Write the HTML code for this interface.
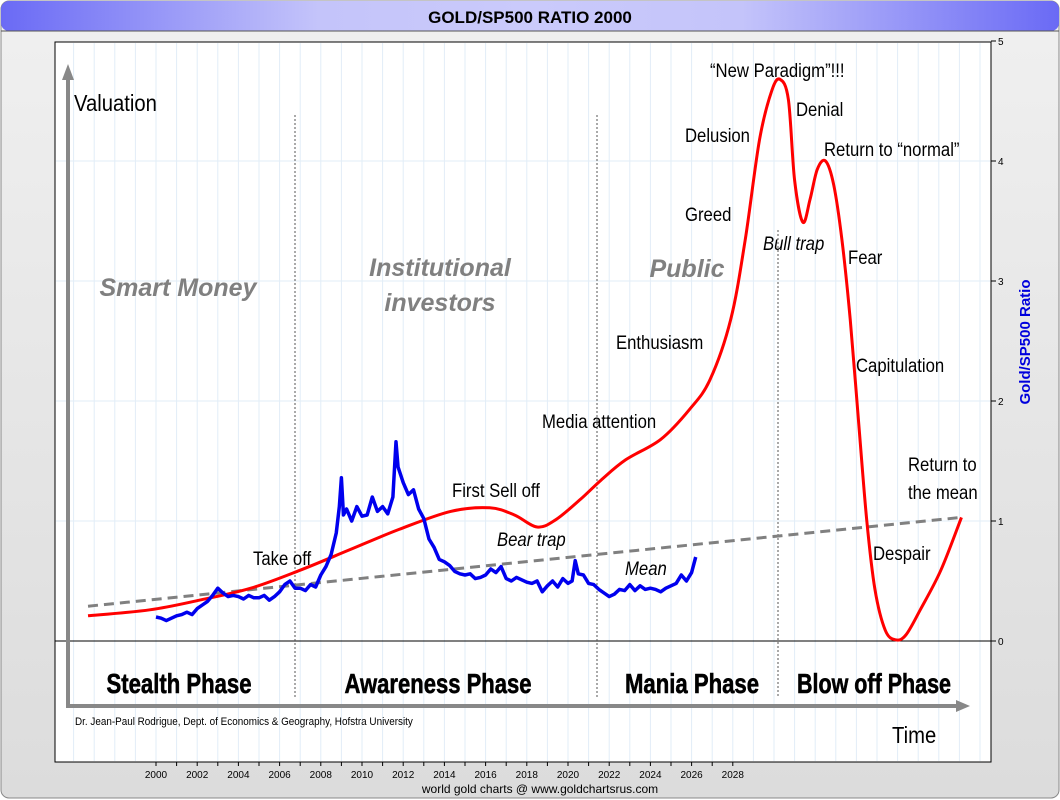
<!DOCTYPE html>
<html><head><meta charset="utf-8"><style>
html,body{margin:0;padding:0;background:#fff}
svg{display:block}
text{font-family:"Liberation Sans",sans-serif}
</style></head><body>
<svg id="chart" width="1060" height="800" viewBox="0 0 1060 800">
<defs>
<linearGradient id="tg" x1="0" x2="1" y1="0" y2="0">
<stop offset="0" stop-color="#6a6af5"/><stop offset="0.3" stop-color="#c4c4fa"/><stop offset="0.5" stop-color="#cacafb"/><stop offset="0.7" stop-color="#c4c4fa"/><stop offset="1" stop-color="#6a6af5"/></linearGradient>
<linearGradient id="bg" x1="0" x2="0" y1="0" y2="1"><stop offset="0" stop-color="#f0f0f0"/><stop offset="1" stop-color="#dcdcdc"/></linearGradient>
</defs>
<rect x="1" y="1" width="1058" height="797" rx="8" fill="url(#bg)" stroke="#888"/>
<rect x="1" y="1" width="1058" height="30" rx="8" fill="url(#tg)"/>
<line x1="1" y1="31" x2="1059" y2="31" stroke="#555"/>
<text x="530" y="23" text-anchor="middle" font-size="17" font-weight="bold">GOLD/SP500 RATIO 2000</text>
<rect x="55" y="42" width="936" height="720" fill="#fff" stroke="#000"/>
<g id="grid"></g>
<g id="axes"></g>
<g id="marks"></g>
<g id="labels"></g>
<text x="1030" y="342" transform="rotate(-90 1030 342)" text-anchor="middle" font-size="15" font-weight="bold" fill="#0000dd">Gold/SP500 Ratio</text>
<text x="75" y="725" font-size="11" transform="translate(75 725) scale(0.9 1) translate(-75 -725)">Dr. Jean-Paul Rodrigue, Dept. of Economics &amp; Geography, Hofstra University</text>
<text x="540" y="793" text-anchor="middle" font-size="12">world gold charts @ www.goldchartsrus.com</text>
</svg>
<script>
const yTicks=[0,1,2,3,4,5];
const xTickYears=[2000,2002,2004,2006,2008,2010,2012,2014,2016,2018,2020,2022,2024,2026,2028];
const goldYears=[2000,2000.25,2000.5,2000.75,2001,2001.25,2001.5,2001.75,2002,2002.25,2002.5,2002.75,2003,2003.25,2003.5,2003.75,2004,2004.25,2004.5,2004.75,2005,2005.25,2005.5,2005.75,2006,2006.25,2006.5,2006.75,2007,2007.25,2007.5,2007.75,2008,2008.25,2008.5,2008.75,2008.9,2009,2009.1,2009.25,2009.5,2009.75,2010,2010.25,2010.5,2010.75,2011,2011.25,2011.5,2011.65,2011.75,2012,2012.25,2012.5,2012.75,2013,2013.25,2013.5,2013.75,2014,2014.25,2014.5,2014.75,2015,2015.25,2015.5,2015.75,2016,2016.25,2016.5,2016.75,2017,2017.25,2017.5,2017.75,2018,2018.25,2018.5,2018.75,2019,2019.25,2019.5,2019.75,2020,2020.2,2020.35,2020.5,2020.75,2021,2021.25,2021.5,2021.75,2022,2022.25,2022.5,2022.75,2023,2023.25,2023.5,2023.75,2024,2024.25,2024.5,2024.75,2025,2025.25,2025.5,2025.75,2026,2026.2];
const goldVals=[0.2,0.19,0.17,0.19,0.21,0.22,0.24,0.22,0.27,0.3,0.33,0.38,0.44,0.4,0.37,0.38,0.37,0.35,0.38,0.36,0.36,0.38,0.34,0.37,0.41,0.47,0.5,0.44,0.44,0.42,0.47,0.45,0.55,0.62,0.72,0.9,1.12,1.36,1.05,1.1,1.0,1.12,1.04,1.05,1.2,1.08,1.12,1.06,1.2,1.66,1.45,1.32,1.22,1.26,1.1,1.02,0.85,0.78,0.68,0.66,0.63,0.58,0.56,0.55,0.56,0.52,0.53,0.55,0.6,0.57,0.62,0.52,0.5,0.53,0.51,0.49,0.48,0.5,0.41,0.46,0.5,0.45,0.52,0.48,0.5,0.67,0.56,0.55,0.48,0.47,0.43,0.4,0.37,0.39,0.43,0.42,0.47,0.42,0.46,0.43,0.44,0.43,0.41,0.44,0.46,0.48,0.55,0.5,0.57,0.7];
const curveYears=[1996.7,1999.7,2002.1,2004.6,2007.0,2009.4,2011.8,2014.3,2016.2,2017.4,2018.5,2019.4,2020.6,2021.6,2022.8,2024.5,2025.9,2026.9,2027.9,2028.6,2029.3,2029.9,2030.3,2030.7,2031.0,2031.4,2031.75,2032.1,2032.5,2032.9,2033.3,2033.7,2034.1,2034.5,2034.9,2035.4,2035.9,2036.4,2037.1,2038.1,2039.1];
const curveVals=[0.21,0.26,0.34,0.44,0.59,0.76,0.93,1.08,1.11,1.05,0.95,1.01,1.18,1.34,1.51,1.68,1.93,2.18,2.68,3.34,4.18,4.59,4.68,4.51,3.84,3.49,3.68,3.93,4.0,3.8,3.34,2.68,1.84,1.01,0.43,0.09,0.01,0.05,0.26,0.59,1.03];
const meanYears=[1996.7,2039.1];
const meanVals=[0.29,1.03];

const NS='http://www.w3.org/2000/svg';
const X=yr=>156+(yr-2000)*20.6;
const Y=v=>641-v*120;
function mk(parent,tag,attrs){const e=document.createElementNS(NS,tag);for(const k in attrs)e.setAttribute(k,attrs[k]);parent.appendChild(e);return e;}
const grid=document.getElementById('grid'),axes=document.getElementById('axes'),marks=document.getElementById('marks'),labels=document.getElementById('labels');
for(let yr=1995;yr<=2041;yr++){const x=X(yr);if(x<57||x>989)continue;
const g=mk(grid,'line',{x1:x,x2:x,y1:43,y2:761,stroke:'#e2edf7','stroke-width':1});

}
yTicks.forEach(v=>{
if(v>0&&v<5){const h=mk(grid,'line',{x1:56,x2:990,y1:Y(v),y2:Y(v),stroke:'#e2edf7'});

}
const t=mk(axes,'line',{x1:991,x2:996,y1:Y(v),y2:Y(v),stroke:'#000'});


const l=mk(axes,'text',{x:998,y:Y(v)+4,'font-size':10});l.textContent=v;

});
for(let yr=2000;yr<=2028;yr++){const x=X(yr);
const t=mk(axes,'line',{x1:x,x2:x,y1:762,y2:766,stroke:'#000'});

}
xTickYears.forEach(yr=>{const l=mk(axes,'text',{x:X(yr),y:778,'font-size':10,'text-anchor':'middle'});l.textContent=yr;

});
const zl=mk(axes,'line',{x1:55,x2:991,y1:Y(0),y2:Y(0),stroke:'#000'});


[[295,115],[597,115],[778,230]].forEach(([x,y1])=>{const d=mk(axes,'line',{x1:x,x2:x,y1:y1,y2:697,stroke:'#555','stroke-dasharray':'2,2'});

});
const va=mk(axes,'path',{d:'M68 706 L68 78',stroke:'#888','stroke-width':4,fill:'none'});


const vh=mk(axes,'path',{d:'M62 80 L68 64 L74 80 Z',fill:'#888'});


const ha=mk(axes,'path',{d:'M66 706 L958 706',stroke:'#888','stroke-width':4,fill:'none'});


const hh=mk(axes,'path',{d:'M956 700 L970 706 L956 712 Z',fill:'#888'});


const ml=mk(marks,'line',{x1:X(meanYears[0]),y1:Y(meanVals[0]),x2:X(meanYears[1]),y2:Y(meanVals[1]),stroke:'#808080','stroke-width':3,'stroke-dasharray':'10,6'});


const P=curveYears.map((y,i)=>[X(y),Y(curveVals[i])]);
let d='M'+P[0][0]+' '+P[0][1];
for(let i=0;i<P.length-1;i++){const p0=P[i-1]||P[i],p1=P[i],p2=P[i+1],p3=P[i+2]||p2;
const c1=[p1[0]+(p2[0]-p0[0])/6,p1[1]+(p2[1]-p0[1])/6],c2=[p2[0]-(p3[0]-p1[0])/6,p2[1]-(p3[1]-p1[1])/6];
d+=` C${c1[0]} ${c1[1]} ${c2[0]} ${c2[1]} ${p2[0]} ${p2[1]}`;}
const rc=mk(marks,'path',{d:d,stroke:'#ff0000','stroke-width':3,fill:'none'});


const gp=mk(marks,'polyline',{points:goldYears.map((y,i)=>X(y)+','+Y(goldVals[i])).join(' '),stroke:'#0000ee','stroke-width':3.5,fill:'none','stroke-linejoin':'round'});


const notes=[
['Valuation',74,111,23,'normal','#000','normal','valuation-label'],
['Time',892,743,23,'normal','#000','normal','time-label'],
['Smart Money',178,296,25,'bold','#808080','italic','smart-money-label','middle'],
['Institutional',440,276,25,'bold','#808080','italic','institutional-label','middle'],
['investors',440,311,25,'bold','#808080','italic','investors-label','middle'],
['Public',687,277,25,'bold','#808080','italic','public-label','middle'],
['\u201CNew Paradigm\u201D!!!',710,77,19,'normal','#000','normal','new-paradigm-label'],
['Denial',796,116,19,'normal','#000','normal','denial-label'],
['Delusion',685,142,19,'normal','#000','normal','delusion-label'],
['Return to \u201Cnormal\u201D',824,156,19,'normal','#000','normal','return-normal-label'],
['Greed',685,221,19,'normal','#000','normal','greed-label'],
['Bull trap',763,250,19,'normal','#000','italic','bull-trap-label'],
['Fear',848,264,19,'normal','#000','normal','fear-label'],
['Enthusiasm',616,349,19,'normal','#000','normal','enthusiasm-label'],
['Capitulation',856,372,19,'normal','#000','normal','capitulation-label'],
['Media attention',542,428,19,'normal','#000','normal','media-attention-label'],
['Return to',908,471,19,'normal','#000','normal','return-mean-label-1'],
['the mean',908,499,19,'normal','#000','normal','return-mean-label-2'],
['First Sell off',452,497,19,'normal','#000','normal','first-selloff-label'],
['Bear trap',497,546,19,'normal','#000','italic','bear-trap-label'],
['Take off',253,565,19,'normal','#000','normal','take-off-label'],
['Mean',625,575,19,'normal','#000','italic','mean-label'],
['Despair',873,560,19,'normal','#000','normal','despair-label']];
notes.forEach(n=>{const t=mk(labels,'text',{x:n[1],y:n[2],'font-size':n[3],'font-weight':n[4],fill:n[5],'font-style':n[6],'text-anchor':n[8]||'start',transform:n[8]?'':`translate(${n[1]} ${n[2]}) scale(0.88 1) translate(${-n[1]} ${-n[2]})`});
t.textContent=n[0];

});
[['Stealth Phase',179,145],['Awareness Phase',438,187],['Mania Phase',692,134],['Blow off Phase',874,154]].forEach(p=>{
const t=mk(labels,'text',{x:p[1],y:693,'font-size':28,'font-weight':'bold','text-anchor':'middle',textLength:p[2],lengthAdjust:'spacingAndGlyphs',stroke:'#000','stroke-width':0.6});
t.textContent=p[0];

});
</script>
</body></html>
